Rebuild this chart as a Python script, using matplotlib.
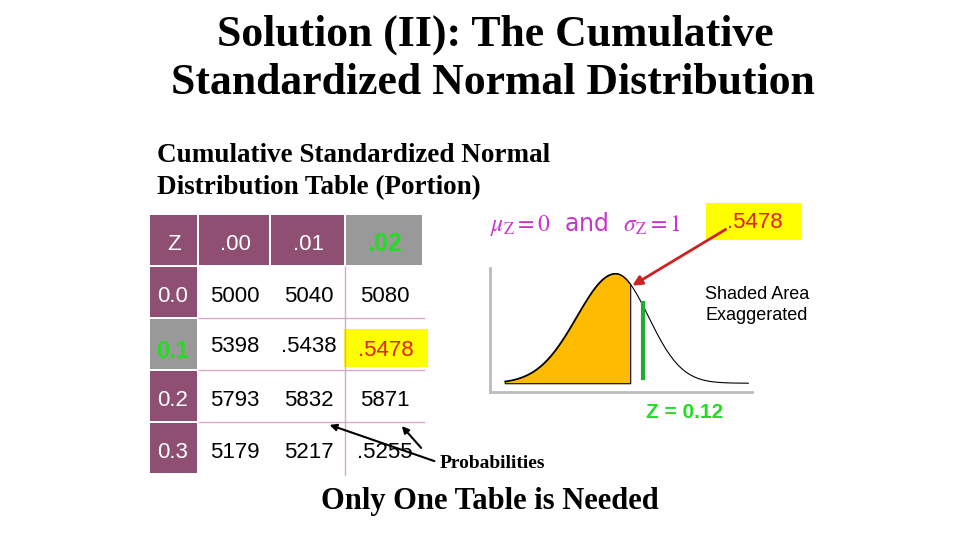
import numpy as np
import matplotlib
matplotlib.use('Agg')
import matplotlib.pyplot as plt

plt.rcParams['mathtext.fontset'] = 'stix'

col_labels = ['Z', '.00', '.01', '.02']
row_labels = ['0.0', '0.1', '0.2', '0.3']
cells = [['5000', '5040', '5080'],
         ['5398', '.5438', '.5478'],
         ['5793', '5832', '5871'],
         ['5179', '5217', '.5255']]
z_value = 0.12
shaded_prob = '.5478'

PURPLE = '#8e4f72'
GRAY = '#999999'
GREEN = '#22dd22'
LINE = '#d8a8c8'

fig = plt.figure(figsize=(9.6, 5.4), dpi=100)
ax = fig.add_axes([0, 0, 1, 1])
ax.set_xlim(0, 960); ax.set_ylim(540, 0); ax.axis('off')

serif = 'Liberation Serif'
sans = 'Liberation Sans'
ax.text(495, 35, 'Solution (II): The Cumulative', ha='center', va='center',
        fontsize=31.5, family=serif, fontweight='bold')
ax.text(493, 83, 'Standardized Normal Distribution', ha='center', va='center',
        fontsize=31.5, family=serif, fontweight='bold')
ax.text(157, 156, 'Cumulative Standardized Normal', ha='left', va='center',
        fontsize=19.5, family=serif, fontweight='bold')
ax.text(157, 188, 'Distribution Table (Portion)', ha='left', va='center',
        fontsize=19.5, family=serif, fontweight='bold')

# table
xs = [150, 199, 271, 346, 424]
ys = [215, 267, 319, 371, 423, 475]
for j, lab in enumerate(col_labels):
    fc = GRAY if j == 3 else PURPLE
    ax.add_patch(plt.Rectangle((xs[j], ys[0]), xs[j + 1] - xs[j] - 2, ys[1] - ys[0] - 2, fc=fc, ec='none'))
    if j == 3:
        ax.text((xs[j] + xs[j + 1]) / 2, 244, lab, ha='center', va='center', fontsize=18,
                family=sans, color=GREEN, fontweight='bold')
    else:
        ax.text((xs[j] + xs[j + 1]) / 2, 244, lab, ha='center', va='center', fontsize=16,
                family=sans, color='white')
for i, lab in enumerate(row_labels):
    y0, y1 = ys[i + 1], ys[i + 2]
    yc = (y0 + y1) / 2 + 4
    fc = GRAY if i == 1 else PURPLE
    ax.add_patch(plt.Rectangle((150, y0), 47, y1 - y0 - 2, fc=fc, ec='none'))
    if i == 1:
        ax.text(173, yc + 2, lab, ha='center', va='center', fontsize=17, family=sans,
                color=GREEN, fontweight='bold')
    else:
        ax.text(173, yc, lab, ha='center', va='center', fontsize=16, family=sans, color='white')
    for j, v in enumerate(cells[i]):
        xc = (xs[j + 1] + xs[j + 2]) / 2
        if i == 1 and j == 2:
            ax.add_patch(plt.Rectangle((344, 329), 84, 38, fc='yellow', ec='none'))
            ax.text(386, 350, v, ha='center', va='center', fontsize=16, family=sans, color='#dd2222')
        else:
            ax.text(xc, yc - (3 if i == 1 else 0), v, ha='center', va='center', fontsize=16, family=sans)
for y in ys[2:5]:
    ax.plot([199, 424], [y - 1, y - 1], color=LINE, lw=1)
ax.plot([345, 345], [267, 475], color=LINE, lw=1)

# annotations
ax.text(490, 224, r'$\mu_{\rm Z} = 0$  and  $\sigma_{\rm Z} = 1$', ha='left', va='center',
        fontsize=17, color='#cc33cc')
ax.add_patch(plt.Rectangle((706, 203), 95, 37, fc='yellow', ec='none'))
ax.text(755, 222, shaded_prob, ha='center', va='center', fontsize=16, family=sans, color='#dd2222')
ax.annotate('', xy=(630, 287), xytext=(728, 228),
            arrowprops=dict(arrowstyle='-|>', color='#cc2222', lw=2, mutation_scale=14))
ax.text(757, 305, 'Shaded Area\nExaggerated', ha='center', va='center', fontsize=13,
        family=sans, linespacing=1.3)
ax.text(685, 413, f'Z = {z_value}', ha='center', va='center', fontsize=15, family=sans,
        color=GREEN, fontweight='bold')
ax.text(440, 464, 'Probabilities', ha='left', va='center', fontsize=14, family=serif, fontweight='bold')
ax.annotate('', xy=(327, 424), xytext=(437, 462),
            arrowprops=dict(arrowstyle='-|>', color='black', lw=1.5))
ax.annotate('', xy=(400, 424), xytext=(423, 450),
            arrowprops=dict(arrowstyle='-|>', color='black', lw=1.5))
ax.text(490, 501, 'Only One Table is Needed', ha='center', va='center', fontsize=22,
        family=serif, fontweight='bold')

# curve inset
cax = fig.add_axes([490 / 960, 1 - 392 / 540, 262 / 960, 124 / 540])
x = np.linspace(-3.3, 3.3, 300)
y = np.exp(-(x + 0.3) ** 2 / 2 * np.where(x < -0.3, 0.9, 1.25))
cax.plot(x, y, color='black', lw=0.8)
m = x <= 0.12
cax.fill_between(x[m], 0, y[m], color='#ffbb00', ec='black', lw=0.8)
cax.plot([0.45, 0.45], [0.05, 0.73], color='#22aa33', lw=3)
cax.set_xlim(-3.7, 3.4); cax.set_ylim(-0.08, 1.05)
for s in ['top', 'right']:
    cax.spines[s].set_visible(False)
for s in ['left', 'bottom']:
    cax.spines[s].set_color('#bbbbbb'); cax.spines[s].set_linewidth(2)
cax.set_xticks([]); cax.set_yticks([])
cax.patch.set_alpha(0)

fig.savefig('out.png', dpi=100)
